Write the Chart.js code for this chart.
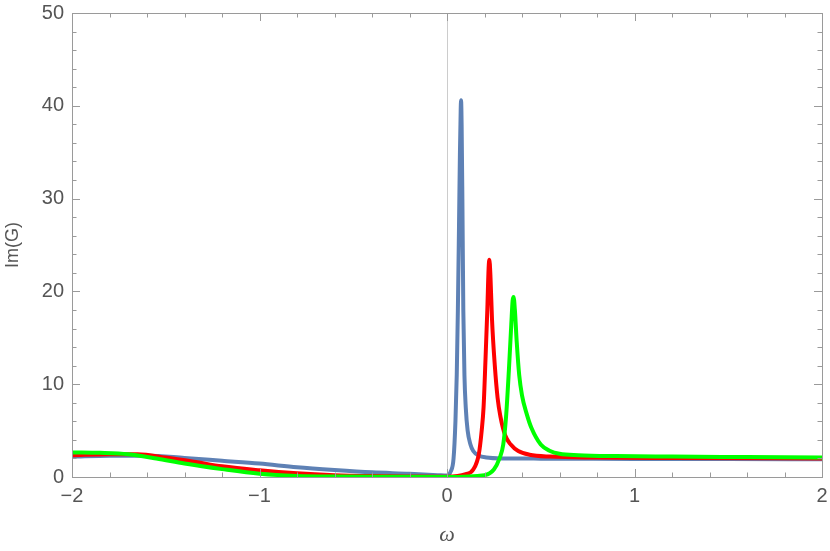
<!DOCTYPE html>
<html>
<head>
<meta charset="utf-8">
<title>Im(G)</title>
<style>
body { margin: 0; padding: 0; background: #fff; }
#wrap { width: 830px; height: 551px; position: relative; }
</style>
<script src="https://cdn.jsdelivr.net/npm/chart.js@4.4.0/dist/chart.umd.min.js"></script>
</head>
<body>
<div id="wrap"><canvas id="c"></canvas></div>
<script>
// values
var omegaBlue = [-2, -1.8, -1.6, -1.4, -1.2, -1.0, -0.8, -0.6, -0.4, -0.2, -0.05, 0, 0.02, 0.035, 0.045, 0.052, 0.058, 0.064, 0.069, 0.073, 0.075, 0.078, 0.082, 0.087, 0.093, 0.1, 0.11, 0.125, 0.14, 0.17, 0.21, 0.3, 0.5, 1.0, 1.5, 2.0];
var imBlue = [2.2, 2.3, 2.3, 2.05, 1.75, 1.45, 1.05, 0.75, 0.5, 0.35, 0.2, 0.15, 0.6, 2, 6, 11, 18, 27, 35, 39.5, 40.6, 38, 30, 18, 11, 7.5, 5, 3.5, 2.8, 2.3, 2.1, 2.0, 1.98, 1.95, 1.93, 1.9];

var omegaRed = [-2, -1.8, -1.65, -1.5, -1.35, -1.2, -1.0, -0.8, -0.6, -0.4, -0.2, 0, 0.1, 0.14, 0.17, 0.185, 0.195, 0.205, 0.215, 0.222, 0.226, 0.232, 0.24, 0.255, 0.27, 0.285, 0.31, 0.34, 0.38, 0.44, 0.55, 0.8, 1.2, 2.0];
var imRed = [2.35, 2.45, 2.45, 2.1, 1.65, 1.15, 0.72, 0.4, 0.2, 0.1, 0.05, 0.02, 0.3, 0.8, 2.5, 5, 7.5, 12.5, 18, 22.5, 23.4, 21.5, 17, 12, 8.5, 6.5, 4.5, 3.5, 2.8, 2.4, 2.2, 2.1, 2.05, 2.0];

var omegaGreen = [-2, -1.85, -1.7, -1.55, -1.4, -1.2, -1.0, -0.8, -0.6, -0.3, 0, 0.2, 0.25, 0.28, 0.3, 0.315, 0.33, 0.343, 0.35, 0.355, 0.362, 0.372, 0.385, 0.4, 0.425, 0.45, 0.5, 0.55, 0.6, 0.7, 0.9, 1.2, 1.6, 2.0];
var imGreen = [2.65, 2.6, 2.45, 2.0, 1.45, 0.85, 0.35, 0.12, 0.05, 0.02, 0.01, 0.2, 0.8, 2, 3.5, 6.5, 11.5, 16.5, 19, 19.4, 18, 14.5, 11, 8.8, 6.8, 5.3, 3.5, 2.8, 2.5, 2.35, 2.25, 2.2, 2.15, 2.1];

var xTickLabels = [-2, -1, 0, 1, 2];
var yTickLabels = [0, 10, 20, 30, 40, 50];

function pts(xs, ys) {
	return xs.map(function (x, i) { return { x: x, y: ys[i] }; });
}
function near(v, list) {
	for (var i = 0; i < list.length; i++) {
		if (Math.abs(v - list[i]) < 1e-6) return list[i];
	}
	return null;
}
function fmt(v) {
	return v < 0 ? '\u2212' + Math.abs(v) : String(v);
}

var frameColor = '#9a9a9a';
var textColor = '#555';

// Mathematica-like frame with inward ticks on all four sides
var framePlugin = {
	id: 'frame',
	beforeDatasetsDraw: function (chart) {
		var ctx = chart.ctx, a = chart.chartArea;
		var x0 = chart.scales.x.getPixelForValue(0);
		ctx.save();
		ctx.strokeStyle = '#cccccc';
		ctx.lineWidth = 1;
		ctx.beginPath();
		ctx.moveTo(Math.round(x0) + 0.5, a.top);
		ctx.lineTo(Math.round(x0) + 0.5, a.bottom);
		ctx.stroke();
		ctx.restore();
	},
	afterDatasetsDraw: function (chart) {
		var ctx = chart.ctx, a = chart.chartArea;
		var sx = chart.scales.x, sy = chart.scales.y;
		ctx.save();
		ctx.strokeStyle = frameColor;
		ctx.lineWidth = 1;
		ctx.strokeRect(Math.round(a.left) + 0.5, Math.round(a.top) + 0.5,
			Math.round(a.right - a.left), Math.round(a.bottom - a.top));
		ctx.beginPath();
		sx.ticks.forEach(function (t) {
			var px = Math.round(sx.getPixelForValue(t.value)) + 0.5;
			var len = near(t.value, xTickLabels) !== null ? 8 : 4.5;
			ctx.moveTo(px, a.bottom); ctx.lineTo(px, a.bottom - len);
			ctx.moveTo(px, a.top); ctx.lineTo(px, a.top + len);
		});
		sy.ticks.forEach(function (t) {
			var py = Math.round(sy.getPixelForValue(t.value)) + 0.5;
			var len = near(t.value, yTickLabels) !== null ? 8 : 4.5;
			ctx.moveTo(a.left, py); ctx.lineTo(a.left + len, py);
			ctx.moveTo(a.right, py); ctx.lineTo(a.right - len, py);
		});
		ctx.stroke();
		ctx.restore();
	}
};

var common = {
	fill: false,
	pointRadius: 0,
	borderWidth: 4,
	cubicInterpolationMode: 'monotone'
};

new Chart(document.getElementById('c'), {
	type: 'line',
	data: {
		datasets: [
			Object.assign({ data: pts(omegaGreen, imGreen), borderColor: '#00ff00' }, common),
			Object.assign({ data: pts(omegaRed, imRed), borderColor: '#ff0000' }, common),
			Object.assign({ data: pts(omegaBlue, imBlue), borderColor: '#5e81b5' }, common)
		]
	},
	options: {
		responsive: true,
		maintainAspectRatio: false,
		animation: false,
		layout: { padding: { left: 0, right: 8, top: 13, bottom: 0 } },
		plugins: { legend: { display: false }, tooltip: { enabled: false } },
		scales: {
			x: {
				type: 'linear',
				min: -2, max: 2,
				grid: { display: false, drawTicks: false },
				border: { display: false },
				afterFit: function (s) {
					s.height = 74;
					s.paddingLeft = 0;
					s.paddingRight = 0;
				},
				ticks: {
					stepSize: 0.2,
					autoSkip: false,
					maxRotation: 0,
					padding: 7,
					color: textColor,
					font: { family: 'Liberation Sans', size: 20 },
					callback: function (v) {
						var n = near(v, xTickLabels);
						return n === null ? '' : fmt(n);
					}
				},
				title: {
					display: true,
					text: 'ω',
					color: textColor,
					font: { family: 'Liberation Serif', size: 22, style: 'italic' },
					padding: { top: 0, bottom: 3 }
				}
			},
			y: {
				min: 0, max: 50,
				grid: { display: false, drawTicks: false },
				border: { display: false },
				afterFit: function (s) {
					s.width = 72;
					s.paddingTop = 0;
					s.paddingBottom = 0;
				},
				ticks: {
					stepSize: 2,
					autoSkip: false,
					padding: 8,
					color: textColor,
					font: { family: 'Liberation Sans', size: 20 },
					callback: function (v) {
						var n = near(v, yTickLabels);
						return n === null ? '' : fmt(n);
					}
				},
				title: {
					display: true,
					text: 'Im(G)',
					color: textColor,
					font: { family: 'Liberation Sans', size: 18 },
					padding: { top: 2, bottom: 0 }
				}
			}
		}
	},
	plugins: [framePlugin]
});
</script>
</body>
</html>
